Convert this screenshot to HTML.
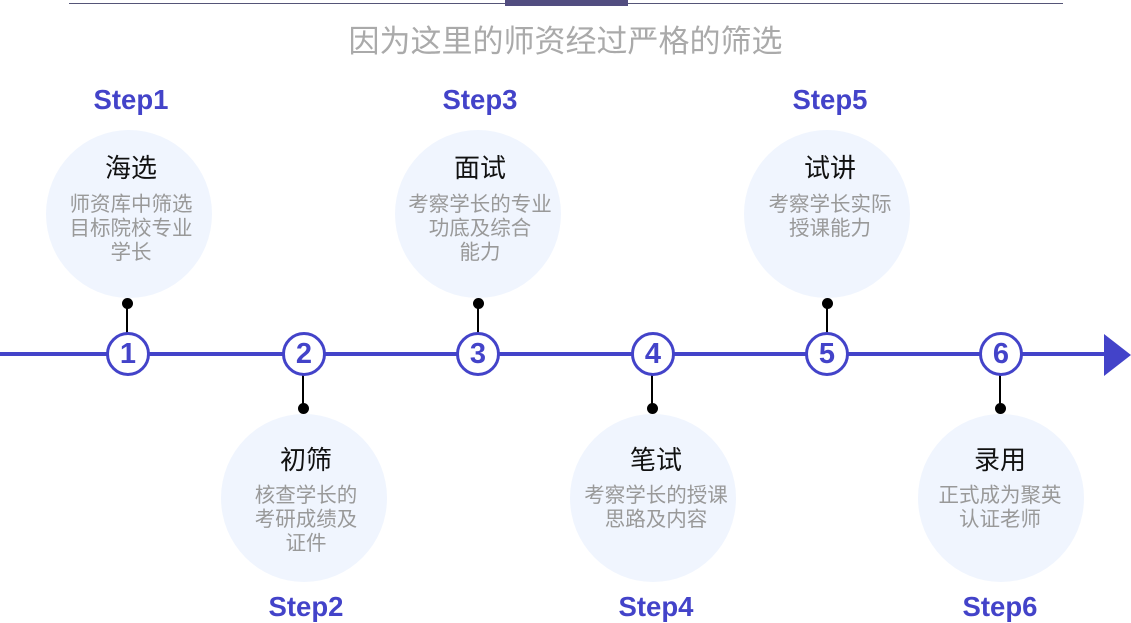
<!DOCTYPE html>
<html><head><meta charset="utf-8"><style>
body{margin:0;width:1131px;height:623px;background:#fff;overflow:hidden;position:relative;font-family:"Liberation Sans","Noto Sans CJK SC",sans-serif}
.a{position:absolute}
.step{position:absolute;width:200px;margin-left:-100px;text-align:center;font:bold 27.5px/30px "Liberation Sans",sans-serif;color:#4343c9}
.bub{position:absolute;width:166px;height:168px;margin-left:-83px;border-radius:50%;background:#f0f5fe}
.t{position:absolute;width:200px;margin-left:-100px;text-align:center;font-size:26px;color:#111;line-height:30px}
.d{position:absolute;width:180px;margin-left:-90px;text-align:center;font-size:20.5px;color:#999;line-height:24px}
.c{position:absolute;width:38px;height:38px;margin-left:-22px;margin-top:-22px;border:3px solid #4343c9;border-radius:50%;background:#fff;text-align:center;font:bold 29px/38px "Liberation Sans",sans-serif;color:#4343c9}
.dot{position:absolute;width:11px;height:11px;margin-left:-5.5px;margin-top:-5.5px;border-radius:50%;background:#000}
.ln{position:absolute;width:2px;margin-left:-1px;background:#000}
</style></head><body>
<div class="a" style="left:69px;top:3px;width:994px;height:1px;background:#555577"></div>
<div class="a" style="left:505px;top:0;width:123px;height:6px;background:#524d80"></div>
<div class="a" style="left:0;width:1131px;top:23px;text-align:center;font-size:31px;color:#aaa;line-height:38px">因为这里的师资经过严格的筛选</div>
<div class="a" style="left:0;top:352px;width:1110px;height:4px;background:#4343c9"></div>
<svg class="a" style="left:1100px;top:332px" width="31" height="46"><polygon points="4,2 31,23 4,44" fill="#4343c9"/></svg>

<div class="step" style="left:131px;top:85px">Step1</div>
<div class="bub" style="left:129px;top:130px"></div>
<div class="t" style="left:131px;top:153px">海选</div>
<div class="d" style="left:131px;top:193px">师资库中筛选<br>目标院校专业<br>学长</div>
<div class="step" style="left:480px;top:85px">Step3</div>
<div class="bub" style="left:478px;top:130px"></div>
<div class="t" style="left:480px;top:153px">面试</div>
<div class="d" style="left:480px;top:193px">考察学长的专业<br>功底及综合<br>能力</div>
<div class="step" style="left:830px;top:85px">Step5</div>
<div class="bub" style="left:827px;top:130px"></div>
<div class="t" style="left:830px;top:153px">试讲</div>
<div class="d" style="left:830px;top:193px">考察学长实际<br>授课能力</div>

<div class="bub" style="left:304px;top:414px"></div>
<div class="t" style="left:306px;top:445px">初筛</div>
<div class="d" style="left:306px;top:484px">核查学长的<br>考研成绩及<br>证件</div>
<div class="step" style="left:306px;top:592px">Step2</div>
<div class="bub" style="left:653px;top:414px"></div>
<div class="t" style="left:656px;top:445px">笔试</div>
<div class="d" style="left:656px;top:484px">考察学长的授课<br>思路及内容</div>
<div class="step" style="left:656px;top:592px">Step4</div>
<div class="bub" style="left:1001px;top:414px"></div>
<div class="t" style="left:1000px;top:445px">录用</div>
<div class="d" style="left:1000px;top:484px">正式成为聚英<br>认证老师</div>
<div class="step" style="left:1000px;top:592px">Step6</div>

<div class="ln" style="left:127px;top:303px;height:30px"></div><div class="dot" style="left:127px;top:303px"></div>
<div class="ln" style="left:478px;top:303px;height:30px"></div><div class="dot" style="left:478px;top:303px"></div>
<div class="ln" style="left:827px;top:303px;height:30px"></div><div class="dot" style="left:827px;top:303px"></div>
<div class="ln" style="left:303px;top:375px;height:33px"></div><div class="dot" style="left:303px;top:408px"></div>
<div class="ln" style="left:652px;top:375px;height:33px"></div><div class="dot" style="left:652px;top:408px"></div>
<div class="ln" style="left:1000px;top:375px;height:33px"></div><div class="dot" style="left:1000px;top:408px"></div>

<div class="c" style="left:128px;top:354px">1</div>
<div class="c" style="left:304px;top:354px">2</div>
<div class="c" style="left:478px;top:354px">3</div>
<div class="c" style="left:653px;top:354px">4</div>
<div class="c" style="left:827px;top:354px">5</div>
<div class="c" style="left:1001px;top:354px">6</div>
</body></html>
